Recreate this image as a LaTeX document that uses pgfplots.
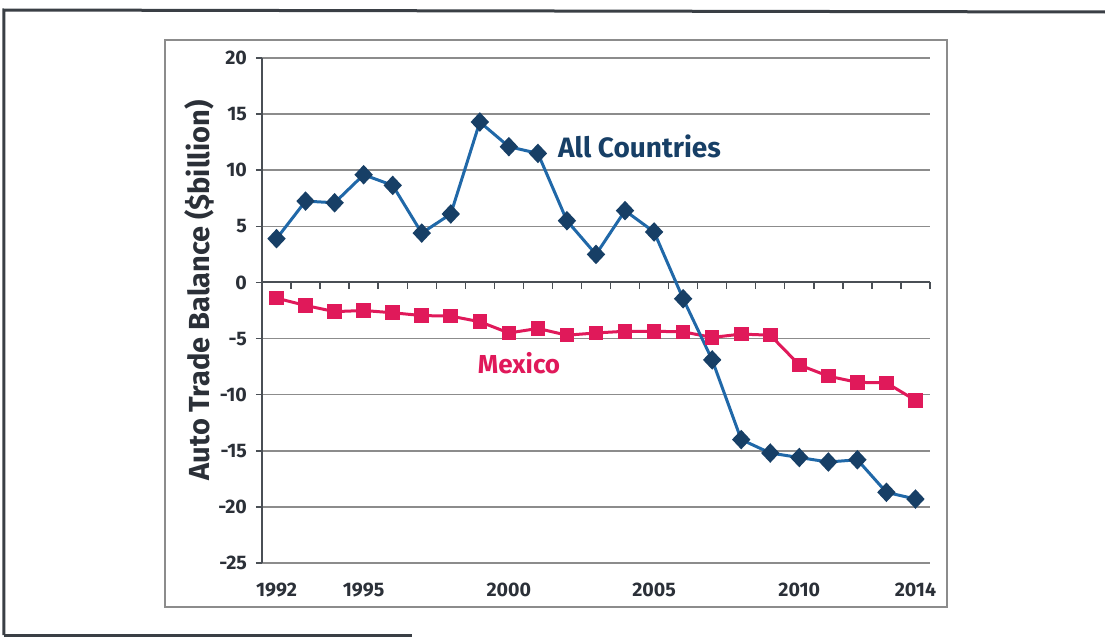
\documentclass[border=0pt]{standalone}
\usepackage{pgfplots}
\pgfplotsset{compat=1.18}
\usepackage{pgfplotstable}
\usepackage{fontspec}
\setmainfont{Fira Sans}

\definecolor{allblue}{HTML}{2068A8}
\definecolor{allnavy}{HTML}{173F66}
\definecolor{mexred}{HTML}{E0195A}
\definecolor{gridgray}{HTML}{8C8C8C}
\definecolor{axisdark}{HTML}{4A4F55}
\definecolor{labeldark}{HTML}{2B3038}
\definecolor{framedark}{HTML}{3A3F45}

% Auto trade balance, $ billion (idx = years since 1992)
\pgfplotstableread{
idx year  all    mex
0   1992   3.9  -1.40
1   1993   7.25 -2.05
2   1994   7.1  -2.60
3   1995   9.6  -2.50
4   1996   8.65 -2.70
5   1997   4.4  -2.95
6   1998   6.1  -3.00
7   1999  14.3  -3.50
8   2000  12.1  -4.50
9   2001  11.5  -4.10
10  2002   5.5  -4.70
11  2003   2.5  -4.50
12  2004   6.4  -4.35
13  2005   4.5  -4.35
14  2006  -1.45 -4.40
15  2007  -6.9  -4.90
16  2008 -14.0  -4.60
17  2009 -15.2  -4.70
18  2010 -15.6  -7.35
19  2011 -16.0  -8.35
20  2012 -15.8  -8.90
21  2013 -18.7  -8.95
22  2014 -19.3 -10.50
}\autotrade

\begin{document}
\begin{tikzpicture}
\useasboundingbox (-131pt,-38pt) rectangle (421.5pt,281.5pt);

% page frame and chart box (pixel grid, 1 unit = 0.5pt)
\begin{scope}[x=0.5pt,y=-0.5pt,shift={(-131pt,281.5pt)}]
  \draw[framedark, line width=1.5pt] (4,635) -- (4,10) -- (1105,12);
  \draw[framedark, line width=1.5pt] (4,635) -- (412,635);
  \draw[gridgray, line width=1pt] (165,40) rectangle (947,607);
\end{scope}

\begin{axis}[
  at={(0,0)}, anchor=south west,
  scale only axis, width=334pt, height=252.5pt,
  xmin=-0.5, xmax=22.5, ymin=-25, ymax=20,
  xtick={0,3,8,13,18,22},
  xticklabels={1992,1995,2000,2005,2010,2014},
  ytick={-25,-20,-15,-10,-5,0,5,10,15,20},
  yticklabels={-25,-20,-15,-10,-5,0,5,10,15,20},
  ymajorgrids,
  grid style={draw=gridgray, line width=0.8pt},
  axis x line*=bottom, axis y line*=left,
  axis line style={-},
  x axis line style={draw=none},
  y axis line style={draw=axisdark, line width=0.9pt},
  xtick style={draw=none},
  ytick style={draw=axisdark, line width=0.8pt},
  tick align=outside, major tick length=3pt,
  tick label style={font=\fontsize{9.8}{11}\selectfont\bfseries, text=labeldark},
  xticklabel style={yshift=-3.5pt},
  yticklabel style={xshift=-1pt},
  ylabel={Auto Trade Balance (\$billion)},
  ylabel style={at={(axis description cs:-0.093,0.54)}, anchor=center,
    font=\fontsize{14.5}{16}\selectfont\bfseries, text=labeldark},
  clip=false,
]
  % zero line with category ticks
  \draw[axisdark, line width=1pt] (axis cs:-0.5,0) -- (axis cs:22.5,0);
  \pgfplotsinvokeforeach{0,...,22}{
    \draw[axisdark, line width=0.7pt] (axis cs:#1+0.5,0) -- (axis cs:#1+0.5,-0.55);
  }

  \addplot[mexred, line width=1.5pt, mark=square*, mark size=2.9pt,
    mark options={fill=mexred, draw=mexred}] table[x=idx, y=mex] {\autotrade};
  \addplot[allblue, line width=1.5pt, mark=diamond*, mark size=3.8pt,
    mark options={fill=allnavy, draw=allnavy, xscale=1.25}] table[x=idx, y=all] {\autotrade};

  \node[font=\fontsize{14}{16}\selectfont\bfseries, text=allnavy]
    at (axis cs:12.5,12.1) {All Countries};
  \node[font=\fontsize{13}{15}\selectfont\bfseries, text=mexred]
    at (axis cs:8.35,-7.15) {Mexico};
\end{axis}
\end{tikzpicture}
\end{document}
